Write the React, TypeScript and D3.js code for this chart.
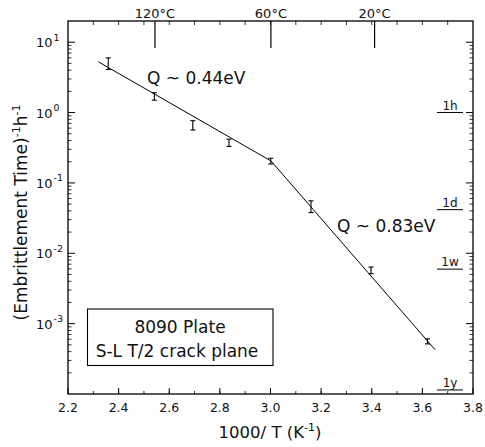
import React from "react";
import * as d3 from "d3";

// measured points: 1000/T and rate (1/h), with error bar limits
const invT = [2.359, 2.541, 2.693, 2.836, 3.001, 3.16, 3.397, 3.62];
const rate = [4.95, 1.69, 0.658, 0.371, 0.204, 0.0459, 0.00571, 0.00056];
const rateHi = [5.98, 1.91, 0.766, 0.418, 0.224, 0.0556, 0.00637, 0.000607];
const rateLo = [4.1, 1.5, 0.565, 0.33, 0.186, 0.0379, 0.00512, 0.000515];

// two straight fits (Arrhenius), joined at the kink
const fitX = [2.32, 3.002, 3.65];
const fitY = [5.26, 0.205, 0.000427];

const xTicks = [2.2, 2.4, 2.6, 2.8, 3.0, 3.2, 3.4, 3.6, 3.8];
const decades = [1, 0, -1, -2, -3];

// top axis temperatures (deg C)
const tempC = [120, 60, 20];

// right side time markers, in hours
const timeHours = [1, 24, 168, 8760];
const timeLabels = ["1h", "1d", "1w", "1y"];

const W = 485;
const H = 447;
const m = { left: 68, right: 473, top: 21, bottom: 394 };
const FONT = "DejaVu Sans, sans-serif";

export default function App() {
  const x = d3.scaleLinear().domain([2.2, 3.8]).range([m.left, m.right]);
  const y = d3.scaleLog().domain([1e-4, 20]).range([m.bottom, m.top]);

  const line = d3
    .line<number>()
    .x((d) => x(d))
    .y((d, i) => y(fitY[i]));

  // minor log ticks 2..9 in each decade
  const minor: number[] = [];
  for (let e = -4; e <= 1; e++) {
    for (let k = 2; k <= 9; k++) {
      const v = k * Math.pow(10, e);
      if (v > 1e-4 && v < 20) minor.push(v);
    }
  }
  const xMinor = d3.range(23, 38).map((d) => d / 10);

  return (
    <svg
      width={W}
      height={H}
      style={{ position: "absolute", left: 0, top: 0, background: "#fff" }}
      fontFamily={FONT}
    >
      <rect x={0} y={0} width={W} height={H} fill="#fff" />

      {/* left + right log ticks */}
      {decades.map((e) => (
        <g key={"d" + e}>
          <line x1={m.left} x2={m.left + 7} y1={y(Math.pow(10, e))} y2={y(Math.pow(10, e))} stroke="#000" />
          <line x1={m.right} x2={m.right - 7} y1={y(Math.pow(10, e))} y2={y(Math.pow(10, e))} stroke="#000" />
          <text x={52.5} y={y(Math.pow(10, e)) + 5} fontSize={13} textAnchor="end" fill="#111">
            10
          </text>
          <text x={53.5} y={y(Math.pow(10, e)) - 1.5} fontSize={9.5} textAnchor="start" fill="#111">
            {e < 0 ? "-" + Math.abs(e) : e}
          </text>
        </g>
      ))}
      {minor.map((v, i) => (
        <g key={"m" + i}>
          <line x1={m.left} x2={m.left + 3.5} y1={y(v)} y2={y(v)} stroke="#000" strokeWidth={0.8} />
          <line x1={m.right} x2={m.right - 3.5} y1={y(v)} y2={y(v)} stroke="#000" strokeWidth={0.8} />
        </g>
      ))}

      {/* bottom + top x ticks */}
      {xMinor.map((v, i) => (
        <g key={"xm" + i}>
          <line x1={x(v)} x2={x(v)} y1={m.bottom} y2={m.bottom - 3} stroke="#000" strokeWidth={0.8} />
          <line x1={x(v)} x2={x(v)} y1={m.top} y2={m.top + 4} stroke="#000" strokeWidth={0.8} />
        </g>
      ))}
      {xTicks.map((v) => (
        <g key={"xt" + v}>
          <line x1={x(v)} x2={x(v)} y1={m.bottom} y2={m.bottom - 6} stroke="#000" />
          <text x={x(v)} y={m.bottom + 18} fontSize={12.5} textAnchor="middle" fill="#111">
            {v.toFixed(1)}
          </text>
        </g>
      ))}

      {/* temperature ticks on top */}
      {tempC.map((t) => {
        const px = x(1000 / (t + 273.15));
        return (
          <g key={"t" + t}>
            <line x1={px} x2={px} y1={m.top} y2={m.top + 27} stroke="#000" strokeWidth={1.2} />
            <text x={px} y={m.top - 3} fontSize={13} textAnchor="middle" fill="#111">
              {t}°C
            </text>
          </g>
        );
      })}

      {/* time markers on right */}
      {timeHours.map((h, i) => (
        <g key={"h" + h}>
          <line x1={437} x2={463} y1={y(1 / h)} y2={y(1 / h)} stroke="#000" strokeWidth={1} />
          <text x={450} y={y(1 / h) - 3} fontSize={12} textAnchor="middle" fill="#111">
            {timeLabels[i]}
          </text>
        </g>
      ))}

      {/* frame */}
      <rect
        x={m.left}
        y={m.top}
        width={m.right - m.left}
        height={m.bottom - m.top}
        fill="none"
        stroke="#000"
        strokeWidth={1.3}
      />

      {/* fit lines */}
      <path d={line(fitX) || ""} fill="none" stroke="#000" strokeWidth={1} />

      {/* data with error bars */}
      {invT.map((v, i) => (
        <g key={"p" + i} stroke="#000" strokeWidth={1.1}>
          <line x1={x(v)} x2={x(v)} y1={y(rateLo[i])} y2={y(rateHi[i])} />
          <line x1={x(v) - 2.5} x2={x(v) + 2.5} y1={y(rateLo[i])} y2={y(rateLo[i])} />
          <line x1={x(v) - 2.5} x2={x(v) + 2.5} y1={y(rateHi[i])} y2={y(rateHi[i])} />
        </g>
      ))}

      {/* annotations */}
      <text x={147} y={84} fontSize={17} fill="#111">
        Q ~ 0.44eV
      </text>
      <text x={337} y={232} fontSize={17} fill="#111">
        Q ~ 0.83eV
      </text>

      {/* legend box */}
      <rect x={87.5} y={309} width={185.5} height={56.5} fill="#fff" stroke="#000" strokeWidth={1.1} />
      <text x={180} y={333} fontSize={17} textAnchor="middle" fill="#111">
        8090 Plate
      </text>
      <text x={177} y={357} fontSize={17} textAnchor="middle" fill="#111">
        S-L T/2 crack plane
      </text>

      {/* axis titles */}
      <text x={270} y={438} fontSize={16.5} textAnchor="middle" fill="#111">
        1000/ T (K
        <tspan fontSize={11} dy={-7}>
          -1
        </tspan>
        <tspan dy={7}>)</tspan>
      </text>
      <text
        transform={`translate(27,${(m.top + m.bottom) / 2 + 5}) rotate(-90)`}
        fontSize={17}
        textAnchor="middle"
        fill="#111"
      >
        (Embrittlement Time)
        <tspan fontSize={11} dy={-7}>
          -1
        </tspan>
        <tspan dy={7}>h</tspan>
        <tspan fontSize={11} dy={-7}>
          -1
        </tspan>
      </text>
    </svg>
  );
}
